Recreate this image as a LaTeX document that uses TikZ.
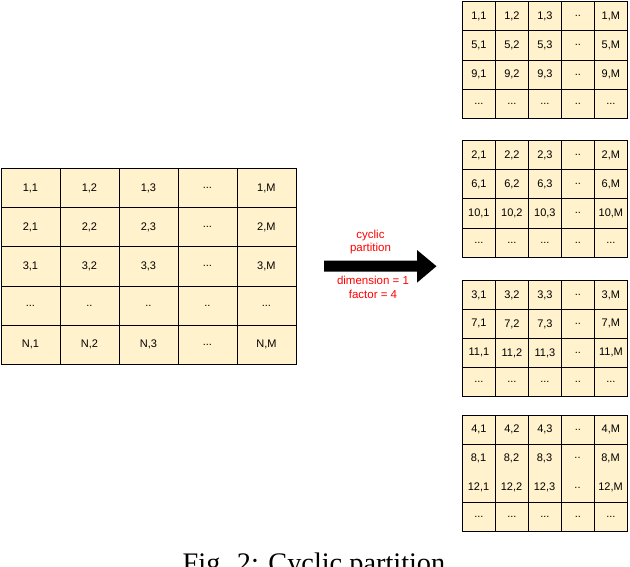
\documentclass[tikz,border=0pt]{standalone}
\usepackage{fontspec}
\setmainfont{Liberation Sans}
\newfontfamily\capfont{Liberation Serif}
\definecolor{cellfill}{HTML}{FFF2CC}
\definecolor{partred}{HTML}{FF0000}
\newcommand\cellrow[7]{%
  \foreach \t [count=\c] in {#7}{%
    \node[cell,minimum width=#5pt,minimum height=#6pt] (#1-#2-\c) at ({#3+(\c-1)*#5},#4) {\t};}}
\newcommand\threedt{...}
\newcommand\twodt{..}
\begin{document}
\begin{tikzpicture}[x=1pt,y=-1pt,
  cell/.style={draw=black,line width=0.8pt,fill=cellfill,inner sep=0pt,anchor=north west,
    font=\fontsize{11}{13}\selectfont},
  celltext/.style={inner sep=0pt,font=\fontsize{11}{13}\selectfont},
  redlabel/.style={text=partred,align=center,inner sep=0pt,font=\fontsize{11.5}{13.5}\selectfont}]
\useasboundingbox (0,0) rectangle (630,566);
% left matrix
\cellrow{L}{1}{0.5}{168}{59}{39.2}{{1,1},{1,2},{1,3},\threedt,{1,M}}
\cellrow{L}{2}{0.5}{207.2}{59}{39.2}{{2,1},{2,2},{2,3},\threedt,{2,M}}
\cellrow{L}{3}{0.5}{246.4}{59}{39.2}{{3,1},{3,2},{3,3},\threedt,{3,M}}
\cellrow{L}{4}{0.5}{285.6}{59}{39.2}{\threedt,\twodt,\twodt,\twodt,\threedt}
\cellrow{L}{5}{0.5}{324.8}{59}{39.2}{{N,1},{N,2},{N,3},\threedt,{N,M}}
% right matrix 1
\cellrow{A}{1}{462}{1}{33}{29.3}{{1,1},{1,2},{1,3},\twodt,{1,M}}
\cellrow{A}{2}{462}{30.3}{33}{29.3}{{5,1},{5,2},{5,3},\twodt,{5,M}}
\cellrow{A}{3}{462}{59.6}{33}{29.3}{{9,1},{9,2},{9,3},\twodt,{9,M}}
\cellrow{A}{4}{462}{88.9}{33}{29.3}{\threedt,\threedt,\threedt,\twodt,\threedt}
% right matrix 2
\cellrow{B}{1}{462}{140}{33}{29.2}{{2,1},{2,2},{2,3},\twodt,{2,M}}
\cellrow{B}{2}{462}{169.2}{33}{29.2}{{6,1},{6,2},{6,3},\twodt,{6,M}}
\cellrow{B}{3}{462}{198.4}{33}{29.2}{{10,1},{10,2},{10,3},\twodt,{10,M}}
\cellrow{B}{4}{462}{227.6}{33}{29.2}{\threedt,\threedt,\threedt,\twodt,\threedt}
% right matrix 3
\cellrow{C}{1}{462}{280}{33}{29}{{3,1},{3,2},{3,3},\twodt,{3,M}}
\cellrow{C}{2}{462}{309}{33}{29}{{7,1},{7,2},{7,3},\twodt,{7,M}}
\cellrow{C}{3}{462}{338}{33}{29}{{11,1},{11,2},{11,3},\twodt,{11,M}}
\cellrow{C}{4}{462}{367}{33}{29}{\threedt,\threedt,\threedt,\twodt,\threedt}
% right matrix 4 (rows 2 and 3 share one cell)
\cellrow{D}{1}{462}{414.7}{33}{29.1}{{4,1},{4,2},{4,3},\twodt,{4,M}}
\foreach \ta/\tb [count=\c] in {{8,1}/{12,1},{8,2}/{12,2},{8,3}/{12,3},\twodt/\twodt,{8,M}/{12,M}}{%
  \node[cell,minimum width=33pt,minimum height=58.2pt] (D-m-\c) at ({462+(\c-1)*33},443.8) {};
  \node[celltext] (D-2-\c) at ({462+(\c-0.5)*33},458.4) {\ta};
  \node[celltext] (D-3-\c) at ({462+(\c-0.5)*33},487.5) {\tb};}
\cellrow{D}{4}{462}{502}{33}{29.1}{\threedt,\threedt,\threedt,\twodt,\threedt}
% arrow
\fill[black] (324,260.7) -- (417,260.7) -- (417,250) -- (436.5,266.2) -- (417,282.7)
  -- (417,271.7) -- (324,271.7) -- cycle;
\node[redlabel] (lab1) at (370.5,242) {cyclic\\partition};
\node[redlabel] (lab2) at (373,287.5) {dimension = 1\\factor = 4};
% caption (cut off at the bottom edge, as in the reference)
\node[anchor=base,inner sep=0pt,font=\capfont\fontsize{28.3}{34}\selectfont] (cap) at (314,572) {Fig. 2: Cyclic partition};
\end{tikzpicture}
\end{document}
